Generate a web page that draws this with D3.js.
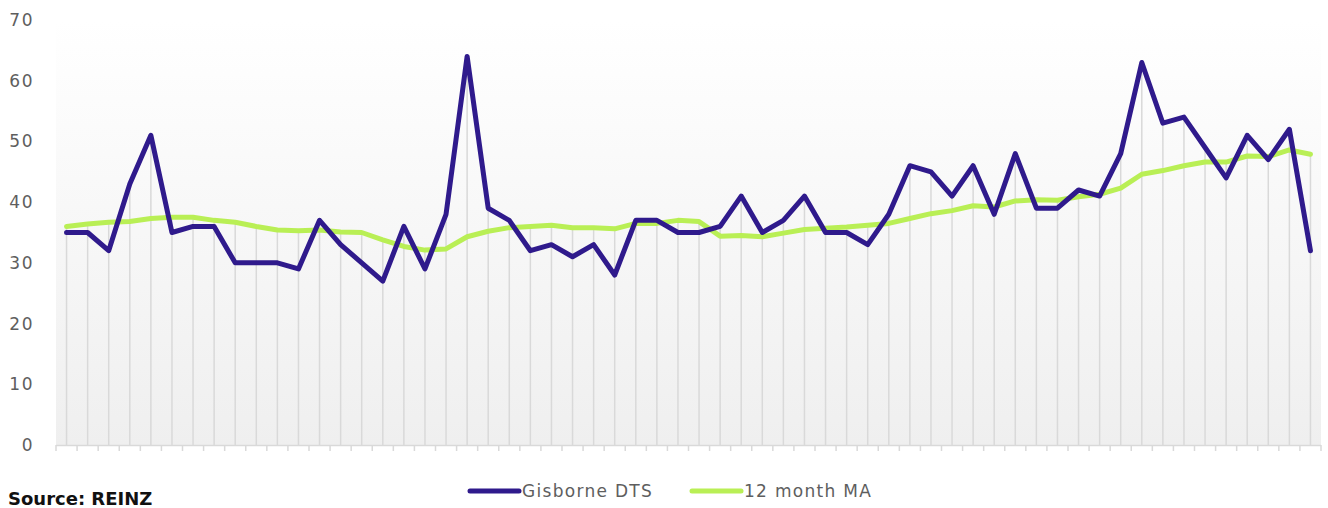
<!DOCTYPE html>
<html lang="en">
<head>
<meta charset="UTF-8">
<title>Gisborne DTS</title>
<script src="https://cdn.jsdelivr.net/npm/d3@7"></script>
<style>
  body { margin: 0; background: #fff; }
  svg { display: block; font-family: "DejaVu Sans", sans-serif; }
</style>
</head>
<body>
<svg id="chart"></svg>
<script>
// monthly days-to-sell
var months = d3.range(60);
var dts = [35,35,32,43,51,35,36,36,30,30,30,29,37,33,30,27,36,29,38,64,
           39,37,32,33,31,33,28,37,37,35,35,36,41,35,37,41,35,35,33,38,
           46,45,41,46,38,48,39,39,42,41,48,63,53,54,49,44,51,47,52,32];
var ma12 = [36.0,36.4,36.7,36.8,37.3,37.5,37.5,37.0,36.7,36.0,35.4,35.3,35.4,35.1,35.0,33.8,32.7,32.1,32.3,34.3,
            35.2,35.8,36.0,36.2,35.8,35.8,35.6,36.5,36.5,37.0,36.8,34.4,34.5,34.3,34.9,35.5,35.7,35.9,36.2,36.5,
            37.3,38.1,38.6,39.4,39.2,40.2,40.4,40.3,40.9,41.3,42.3,44.6,45.2,46.0,46.6,46.6,47.6,47.5,48.6,47.9];
var yTicks = [0,10,20,30,40,50,60,70];
var seriesNames = ["Gisborne DTS", "12 month MA"];
var seriesColors = ["#2f1a8c", "#b9ef55"];

var width = 1328, height = 508;
var margin = {top: 20, right: 7, bottom: 63, left: 56};

var svg = d3.select("#chart").attr("width", width).attr("height", height);

var x = d3.scaleBand()
    .domain(months)
    .range([margin.left, width - margin.right]);
var y = d3.scaleLinear()
    .domain([0, 70])
    .range([height - margin.bottom, margin.top]);

var cx = function(i){ return x(i) + x.bandwidth()/2; };

// background gradient of the plot area
var grad = svg.append("defs").append("linearGradient")
    .attr("id", "bg").attr("x1", 0).attr("y1", 0).attr("x2", 0).attr("y2", 1);
grad.append("stop").attr("offset", "0%").attr("stop-color", "#ffffff");
grad.append("stop").attr("offset", "100%").attr("stop-color", "#efefef");

svg.append("rect")
    .attr("x", margin.left)
    .attr("y", y(70))
    .attr("width", width - margin.right - margin.left)
    .attr("height", y(0) - y(70))
    .attr("fill", "url(#bg)");

// y axis labels (no line)
var yAxis = svg.append("g")
    .attr("transform", "translate(" + margin.left + ",0)")
    .call(d3.axisLeft(y).tickValues(yTicks).tickSize(0));
yAxis.select(".domain").remove();
yAxis.selectAll("text")
    .attr("fill", "#5e5e5e")
    .attr("font-size", 17)
    .attr("font-family", "'DejaVu Sans', sans-serif")
    .attr("letter-spacing", 1.5)
    .attr("text-anchor", "end")
    .attr("x", -22);

// drop lines from the highest point down to the axis
svg.append("g").selectAll("line")
    .data(months)
    .enter()
    .append("line")
    .attr("x1", function(i){ return cx(i); })
    .attr("x2", function(i){ return cx(i); })
    .attr("y1", function(i){ return y(Math.max(dts[i], ma12[i])); })
    .attr("y2", y(0))
    .attr("stroke", "#d9d9d9")
    .attr("stroke-width", 1.5);

// x axis: line + ticks at band edges, no labels
var xg = svg.append("g");
xg.append("line")
    .attr("x1", margin.left).attr("x2", width - margin.right)
    .attr("y1", y(0) + 0.5).attr("y2", y(0) + 0.5)
    .attr("stroke", "#d9d9d9").attr("stroke-width", 1.5);
xg.selectAll("line.tick")
    .data(months.concat([months.length]))
    .enter()
    .append("line")
    .attr("class", "tick")
    .attr("x1", function(i){ return margin.left + i * x.step(); })
    .attr("x2", function(i){ return margin.left + i * x.step(); })
    .attr("y1", y(0)).attr("y2", y(0) + 6)
    .attr("stroke", "#d9d9d9").attr("stroke-width", 1.5);

// lines
var line = function(vals){
    return d3.line()
        .x(function(d, i){ return cx(i); })
        .y(function(d){ return y(d); })(vals);
};

svg.append("path")
    .attr("d", line(ma12))
    .attr("fill", "none")
    .attr("stroke", seriesColors[1])
    .attr("stroke-width", 5)
    .attr("stroke-linejoin", "round")
    .attr("stroke-linecap", "round");

svg.append("path")
    .attr("d", line(dts))
    .attr("fill", "none")
    .attr("stroke", seriesColors[0])
    .attr("stroke-width", 5)
    .attr("stroke-linejoin", "round")
    .attr("stroke-linecap", "round");

// legend
var legendX = [470, 692];
var lg = svg.append("g").selectAll("g")
    .data(seriesNames)
    .enter()
    .append("g")
    .attr("transform", function(d, i){ return "translate(" + legendX[i] + ",491)"; });
lg.append("line")
    .attr("x1", 0).attr("x2", 49)
    .attr("stroke", function(d, i){ return seriesColors[i]; })
    .attr("stroke-width", 5)
    .attr("stroke-linecap", "round");
lg.append("text")
    .attr("x", 52).attr("y", 6)
    .attr("fill", "#5e5e5e")
    .attr("font-size", 17)
    .attr("letter-spacing", 1.3)
    .text(function(d){ return d; });

// source note
svg.append("text")
    .attr("x", 8).attr("y", 505)
    .attr("font-size", 18)
    .attr("font-weight", "bold")
    .attr("fill", "#111")
    .text("Source: REINZ");
</script>
</body>
</html>
